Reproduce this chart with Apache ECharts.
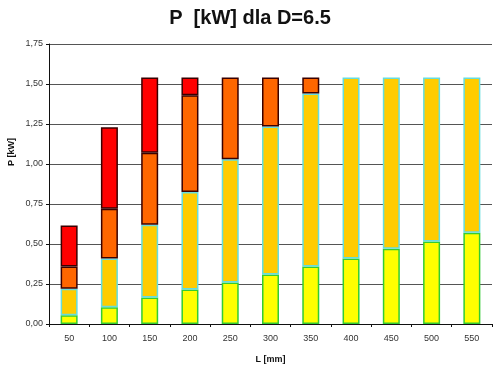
<!DOCTYPE html>
<html><head><meta charset="utf-8">
<script src="https://cdn.jsdelivr.net/npm/echarts@6/dist/echarts.min.js"></script>
<style>html,body{margin:0;padding:0;background:#fff}#c{width:500px;height:370px}</style>
</head><body><div id="c"></div>
<script>
const categories = ['50','100','150','200','250','300','350','400','450','500','550'];
const yellowVals = [0.055,0.105,0.165,0.215,0.26,0.31,0.36,0.41,0.47,0.515,0.57];
const goldVals   = [0.165,0.305,0.455,0.61,0.77,0.925,1.08,1.13,1.07,1.025,0.97];
const orangeVals = [0.14,0.31,0.45,0.605,0.51,0.305,0.10,null,null,null,null];
const redVals    = [0.255,0.51,0.47,0.11,null,null,null,null,null,null,null];
const yTicks = [0,0.25,0.5,0.75,1.0,1.25,1.5,1.75];

const chart = echarts.init(document.getElementById('c'), null, {renderer:'canvas'});
const font = 'Liberation Sans, Arial, sans-serif';
function s(name, data, color, border){
  return {name, type:'bar', stack:'p', data, barWidth:17,
    itemStyle:{color, borderColor:border, borderWidth:1.5}, animation:false};
}
chart.setOption({
  animation:false,
  title:{text:'P  [kW] dla D=6.5', left:'center', top:3,
    textStyle:{fontFamily:font, fontSize:20, fontWeight:'bold', color:'#111'}},
  grid:{left:49, right:8, top:44, bottom:46, containLabel:false},
  xAxis:{type:'category', data:categories,
    name:'L [mm]', nameLocation:'middle', nameGap:31,
    nameTextStyle:{fontFamily:font, fontSize:9, fontWeight:'bold', color:'#111'},
    axisLine:{lineStyle:{color:'#111', width:1}},
    axisTick:{show:true, length:3, lineStyle:{color:'#111'}, alignWithLabel:false},
    axisLabel:{fontFamily:font, fontSize:9, color:'#333', margin:10}},
  yAxis:{type:'value', min:0, max:1.75, interval:0.25,
    axisLine:{show:true, lineStyle:{color:'#111', width:1}},
    axisTick:{show:true, length:3, lineStyle:{color:'#111'}},
    splitLine:{show:true, lineStyle:{color:'#555', width:1}},
    axisLabel:{fontFamily:font, fontSize:9, color:'#333', margin:6,
      formatter:v=>{const t=yTicks.find(x=>Math.abs(x-v)<1e-9); return (t!==undefined?t:v).toFixed(2).replace('.',',');}}},
  graphic:[{type:'text', left:7, top:138, rotation:Math.PI/2,
    style:{text:'P [kW]', font:'bold 9px '+font, fill:'#111'}}],
  series:[
    s('yellow', yellowVals, '#FFFF00', '#33CC33'),
    s('gold', goldVals, '#FFCC00', '#66DDDD'),
    s('orange', orangeVals, '#FF6600', '#3A0000'),
    s('red', redVals, '#FF0000', '#3A0000')
  ]
});
</script></body></html>
